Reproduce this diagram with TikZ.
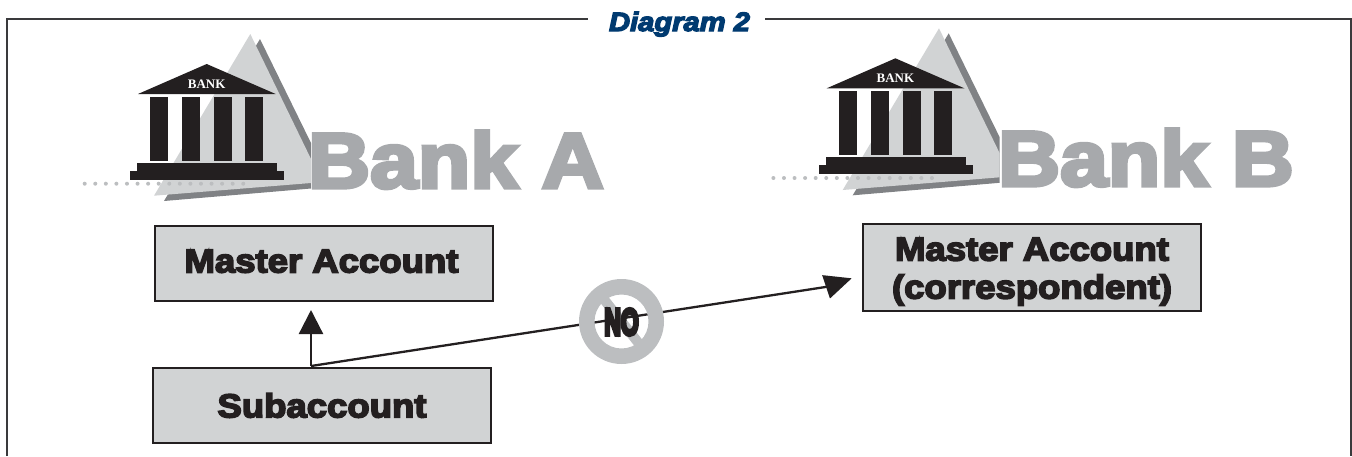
\documentclass[tikz,border=0pt]{standalone}
\usepackage{fontspec}
\usetikzlibrary{arrows.meta}
\newfontfamily\heavy[FakeBold=5,FakeStretch=1.1]{Liberation Sans}
\newfontfamily\heavier[FakeBold=11]{Liberation Sans}
\newfontfamily\bankserif{Liberation Serif}
\definecolor{ink}{HTML}{231F20}
\definecolor{frameline}{HTML}{3A3A3C}
\definecolor{navy}{HTML}{003A70}
\definecolor{lightgray}{HTML}{D1D3D4}
\definecolor{midgray}{HTML}{808285}
\definecolor{lettergray}{HTML}{A7A9AC}
\definecolor{ringgray}{HTML}{BCBEC0}
\tikzset{
  acct/.style={draw=ink,line width=1.1pt,fill=lightgray,inner sep=0pt,align=center,text=ink,font=\heavy\bfseries\fontsize{33.2}{38}\selectfont},
  conn/.style={draw=ink,line width=2.3pt},
  banktitle/.style={anchor=base west,inner sep=0pt,text=lettergray,font=\heavy\bfseries\fontsize{78}{78}\selectfont},
  pics/bankicon/.style={code={
    \fill[midgray] (260,39) -- (311,143) -- (311,188.5) -- (164,201) -- cycle;
    \fill[lightgray] (250.3,34) -- (311,159) -- (311,183) -- (154,195.7) -- cycle;
    \foreach \i in {0,...,15} \fill[ringgray] (84.7+\i*10.57,183.7) circle[radius=2];
    \fill[ink] (206.7,64) -- (275.7,94) -- (138,94) -- cycle;
    \foreach \cx in {150,182,214,245} \fill[ink] (\cx,97) rectangle (\cx+18,161);
    \fill[ink] (137,163) rectangle (277,171);
    \fill[ink] (130,171) rectangle (284,180);
    \node[inner sep=0pt,text=white,font=\bankserif\bfseries\fontsize{13}{13}\selectfont] (-label) at (206.7,84) {BANK};
  }}
}
\begin{document}
\begin{tikzpicture}[x=1pt,y=-1pt]
\useasboundingbox (0,0) rectangle (1352,456);
% frame
\coordinate (fbl) at (7,456);
\coordinate (ftl) at (7,19);
\coordinate (ftr) at (1351,19);
\coordinate (fbr) at (1351,456);
\coordinate (gapl) at (588,19);
\coordinate (gapr) at (765,19);
\draw[frameline,line width=2.5pt] (fbl) -- (ftl) -- (gapl);
\draw[frameline,line width=2.5pt] (gapr) -- (ftr) -- (fbr);
\node[anchor=base,inner sep=0pt,text=navy,font=\heavy\bfseries\itshape\fontsize{26.5}{26.5}\selectfont] (title) at (679.5,31) {Diagram 2};
% banks
\pic (ba) at (0,0) {bankicon};
\pic (bb) at (688.7,-5.7) {bankicon};
\node[banktitle] (banka) at (308,187.7) {Bank A};
\node[banktitle] (bankb) at (998,185.7) {Bank B};
% boxes
\node[acct,minimum width=338pt,minimum height=75pt] (master) at (324,263.5) {\hspace{-5pt}\rule[-5pt]{0pt}{1pt}Master Account};
\node[acct,minimum width=338pt,minimum height=75pt] (sub) at (322,405.5) {Subaccount};
\node[acct,minimum width=338pt,minimum height=87pt] (corr) at (1032,267.5) {\rule{0pt}{31pt}Master Account\\(correspondent)};
% connectors
\coordinate (junction) at (311,366);
\coordinate (upTip) at (311,310);
\coordinate (bendBase) at (825.5,287);
\coordinate (rightTip) at (851.7,278.3);
\draw[conn,-{Triangle[length=24pt,width=24pt]}] (junction) -- (upTip);
\draw[conn,-{Triangle[length=27pt,width=24pt]}] (junction) -- (bendBase) -- (rightTip);
% NO sign
\coordinate (nocenter) at (621.5,321.5);
\fill[ringgray,even odd rule] (nocenter) circle[radius=42.5] (nocenter) circle[radius=27];
\draw[ringgray,line width=10pt] ([shift={(-19,-24)}]nocenter) -- ([shift={(19,24)}]nocenter);
\node[inner sep=0pt,text=ink,font=\heavier\bfseries\fontsize{37}{37}\selectfont] (no) at (621.5,322) {\scalebox{.62}[1]{NO}};
\end{tikzpicture}
\end{document}
